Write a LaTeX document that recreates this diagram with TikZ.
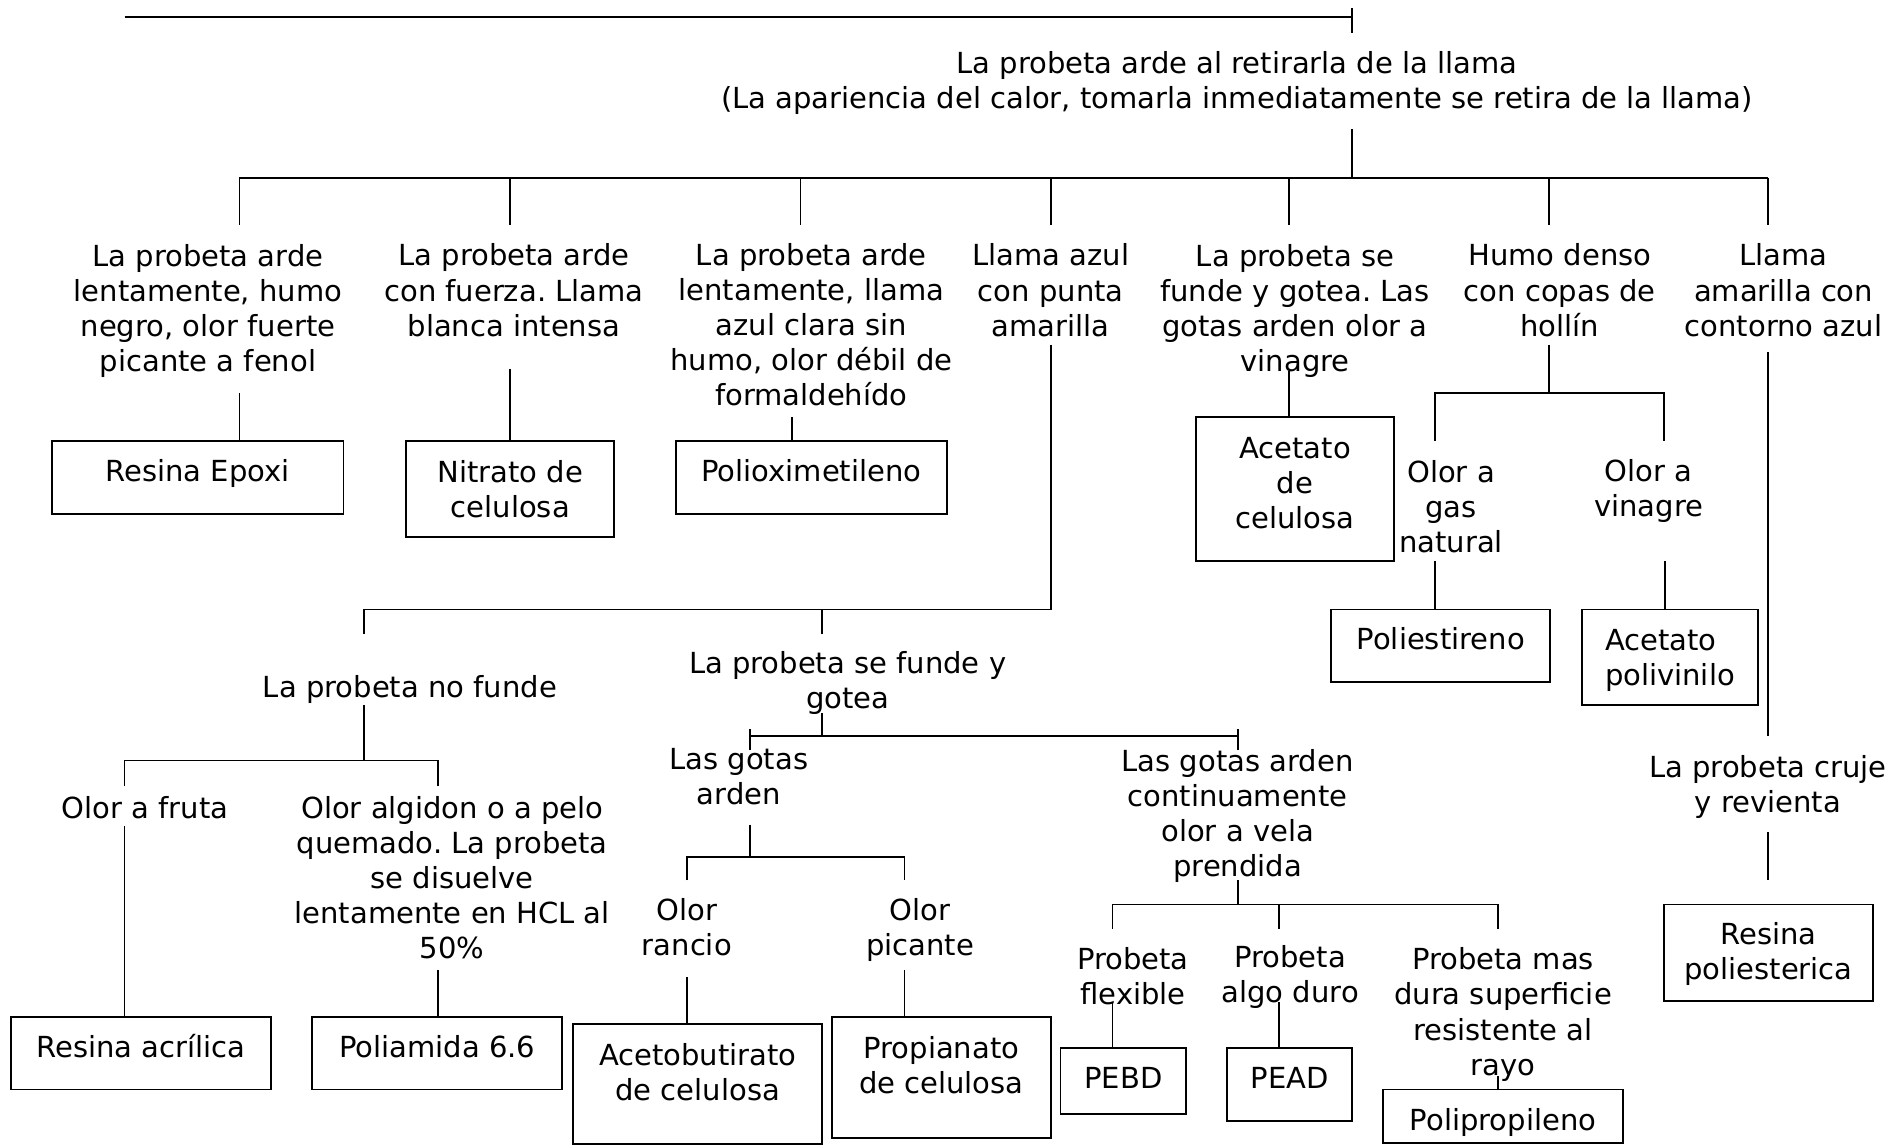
\documentclass[tikz,border=0pt]{standalone}
\usepackage{fontspec}
\setmainfont{DejaVu Sans}
\frenchspacing
\newcommand{\boxtxt}[2]{\raisebox{#1}[\height][\depth]{\begin{tabular}{@{}c@{}}#2\end{tabular}}}
\newcommand{\boxtxtl}[2]{\raisebox{#1}[\height][\depth]{\begin{tabular}{@{}l@{}}#2\end{tabular}}}
\begin{document}
\begin{tikzpicture}[x=0.6pt,y=-0.6pt,line width=0.9pt,
  txt/.style={align=center,inner sep=0pt,font=\fontsize{14.4}{17.4}\selectfont},
  box/.style={draw,inner sep=0pt,font=\fontsize{14.4}{17.4}\selectfont},
  bx/.style 2 args={minimum width=#1*0.6pt,minimum height=#2*0.6pt}]
\useasboundingbox (0,0) rectangle (1568,947);

% top line
\coordinate (topL) at (103,14);
\coordinate (topR) at (1118,14);
\coordinate (tickT) at (1118,7);
\coordinate (tickB) at (1118,27);
\draw (topL) -- (topR);
\draw (tickT) -- (tickB);

% root
\node[txt] (root) at (1023,68.5) {La probeta arde al retirarla de la llama\\(La apariencia del calor, tomarla inmediatamente se retira de la llama)};
\coordinate (rootD) at (1118,107);
\coordinate (rootB) at (1118,147);
\draw (rootD) -- (rootB);
\coordinate (busL) at (198,147);
\coordinate (busR) at (1462,147);
\draw (busL) -- (busR);
\foreach \x/\n in {198/1,422/2,662/3,869/4,1066/5,1281/6,1462/7}{
  \coordinate (dA\n) at (\x,147);
  \coordinate (dB\n) at (\x,186);
  \draw (dA\n) -- (dB\n);
}

% level 1 texts
\node[txt] (c1) at (172,257) {La probeta arde\\lentamente, humo\\negro, olor fuerte\\picante a fenol};
\node[txt] (c2) at (425,240) {La probeta arde\\con fuerza. Llama\\blanca intensa};
\node[txt] (c3) at (671,268.5) {La probeta arde\\lentamente, llama\\azul clara sin\\humo, olor débil de\\formaldehído};
\node[txt] (c4) at (869,240) {Llama azul\\con punta\\amarilla};
\node[txt] (c5) at (1071,257) {La probeta se\\funde y gotea. Las\\gotas arden olor a\\vinagre};
\node[txt] (c6) at (1290,240) {Humo denso\\con copas de\\hollín};
\node[txt] (c7) at (1475,240) {Llama\\amarilla con\\contorno azul};

% branch 1-3
\node[box, bx={241}{60}] (epoxi) at (163.5,395) {\boxtxt{1.8pt}{Resina Epoxi}};
\coordinate (e1) at (198,325);
\draw (e1) -- (e1 |- epoxi.north);
\node[box, bx={172}{79}] (nitrato) at (422,404.5) {\boxtxt{-1.8pt}{Nitrato de\\celulosa}};
\coordinate (n1) at (422,305);
\draw (n1) -- (n1 |- nitrato.north);
\node[box, bx={224}{60}] (polox) at (671,395) {\boxtxt{1.8pt}{Polioximetileno}};
\coordinate (p1) at (655,345);
\draw (p1) -- (p1 |- polox.north);

% branch 5
\node[box, bx={164}{119}] (acecel) at (1071,404.5) {\boxtxt{1.5pt}{Acetato\\de\\celulosa}};
\coordinate (v5) at (1066,307);
\draw (v5) -- (v5 |- acecel.north);

% branch 6
\coordinate (v6a) at (1281,285);
\coordinate (v6b) at (1281,325);
\coordinate (h6L) at (1187,325);
\coordinate (h6R) at (1376,325);
\coordinate (h6Ld) at (1187,365);
\coordinate (h6Rd) at (1376,365);
\draw (v6a) -- (v6b);
\draw (h6Ld) -- (h6L) -- (h6R) -- (h6Rd);
\node[txt] (gas) at (1200,419) {Olor a\\gas\\natural};
\node[txt] (vin) at (1363.5,406) {Olor a\\vinagre};
\node[box, bx={181}{60}] (pest) at (1191.5,534) {\boxtxt{1.8pt}{Poliestireno}};
\node[box, bx={146}{79}] (apv) at (1381,543.5) {\boxtxtl{-1.8pt}{Acetato\\polivinilo}};
\coordinate (g1) at (1187,464);
\coordinate (vn1) at (1377,464);
\draw (g1) -- (g1 |- pest.north);
\draw (vn1) -- (vn1 |- apv.north);

% branch 7
\coordinate (v7a) at (1462,291);
\coordinate (v7b) at (1462,609);
\draw (v7a) -- (v7b);
\node[txt] (cruje) at (1462,650.5) {La probeta cruje\\y revienta};
\coordinate (v7c) at (1462,688);
\coordinate (v7d) at (1462,728);
\draw (v7c) -- (v7d);
\node[box, bx={173}{80}] (rpol) at (1462.5,788) {\boxtxt{-1.2pt}{Resina\\poliesterica}};

% branch 4
\coordinate (v4a) at (869,285);
\coordinate (v4b) at (869,504);
\coordinate (h4L) at (301,504);
\coordinate (h4M) at (680,504);
\coordinate (h4Ld) at (301,524);
\coordinate (h4Md) at (680,524);
\draw (v4a) -- (v4b) -- (h4L) -- (h4Ld);
\draw (h4M) -- (h4Md);

% left subtree
\node[txt] (nofunde) at (339,570) {La probeta no funde};
\coordinate (nf1) at (301,583);
\coordinate (nf2) at (301,629);
\coordinate (nfL) at (103,629);
\coordinate (nfR) at (362,629);
\coordinate (nfLd) at (103,650);
\coordinate (nfRd) at (362,650);
\draw (nf1) -- (nf2);
\draw (nfLd) -- (nfL) -- (nfR) -- (nfRd);
\node[txt] (fruta) at (120,668) {Olor a fruta};
\node[txt] (algidon) at (374,726) {Olor algidon o a pelo\\quemado. La probeta\\se disuelve\\lentamente en HCL al\\50\%};
\node[box, bx={215}{60}] (acr) at (116.5,871) {\boxtxt{1.2pt}{Resina acrílica}};
\node[box, bx={207}{60}] (poliam) at (361.5,871) {\boxtxt{1.2pt}{Poliamida 6.6}};
\coordinate (fr1) at (103,683);
\coordinate (al1) at (362,802);
\draw (fr1) -- (fr1 |- acr.north);
\draw (al1) -- (al1 |- poliam.north);

% middle subtree
\node[txt] (funde) at (701,564.5) {La probeta se funde y\\gotea};
\coordinate (fu1) at (680,590);
\coordinate (fu2) at (680,609);
\coordinate (fuL) at (620,609);
\coordinate (fuR) at (1023.5,609);
\draw (fu1) -- (fu2);
\draw (fuL) -- (fuR);
\coordinate (tkLa) at (620,603);
\coordinate (tkLb) at (620,620);
\coordinate (tkRa) at (1023.5,603);
\coordinate (tkRb) at (1023.5,620);
\draw (tkLa) -- (tkLb);
\draw (tkRa) -- (tkRb);

\node[txt] (gotas) at (611,642.5) {Las gotas\\arden};
\coordinate (go1) at (620,682);
\coordinate (go2) at (620,709);
\coordinate (goL) at (568,709);
\coordinate (goR) at (748,709);
\coordinate (goLd) at (568,728);
\coordinate (goRd) at (748,728);
\draw (go1) -- (go2);
\draw (goLd) -- (goL) -- (goR) -- (goRd);
\node[txt] (rancio) at (568,767) {Olor\\rancio};
\node[txt] (picante) at (761,769) {Olor\\picante};
\node[box, bx={206}{99}] (acb) at (577,896.5) {\boxtxt{4.2pt}{Acetobutirato\\de celulosa}};
\node[box, bx={181}{100}] (prop) at (778.5,891) {\boxtxt{4.2pt}{Propianato\\de celulosa}};
\coordinate (ra1) at (568,808);
\coordinate (pi1) at (748,802);
\draw (ra1) -- (ra1 |- acb.north);
\draw (pi1) -- (pi1 |- prop.north);

\node[txt] (vela) at (1023.5,674.5) {Las gotas arden\\continuamente\\olor a vela\\prendida};
\coordinate (ve1) at (1023.5,728);
\coordinate (ve2) at (1023.5,748);
\coordinate (veL) at (920,748);
\coordinate (veR) at (1239,748);
\coordinate (veM) at (1058,748);
\coordinate (veLd) at (920,768);
\coordinate (veMd) at (1058,768);
\coordinate (veRd) at (1239,768);
\draw (ve1) -- (ve2);
\draw (veLd) -- (veL) -- (veR) -- (veRd);
\draw (veM) -- (veMd);
\node[txt] (flex) at (937,807) {Probeta\\flexible};
\node[txt] (duro) at (1067,808) {Probeta\\algo duro};
\node[txt] (mas) at (1243,839) {Probeta mas\\dura superficie\\resistente al\\rayo};
\node[box, bx={104}{54}] (pebd) at (929,894) {\boxtxt{0pt}{PEBD}};
\node[box, bx={103}{60}] (pead) at (1066.5,897) {\boxtxt{1.8pt}{PEAD}};
\node[box, bx={198}{44}] (pp) at (1243,923) {\boxtxt{-3.6pt}{Polipropileno}};
\coordinate (fl1) at (920,829);
\coordinate (du1) at (1058,829);
\coordinate (ma1) at (1239,890);
\draw (fl1) -- (fl1 |- pebd.north);
\draw (du1) -- (du1 |- pead.north);
\draw (ma1) -- (ma1 |- pp.north);
\end{tikzpicture}
\end{document}
